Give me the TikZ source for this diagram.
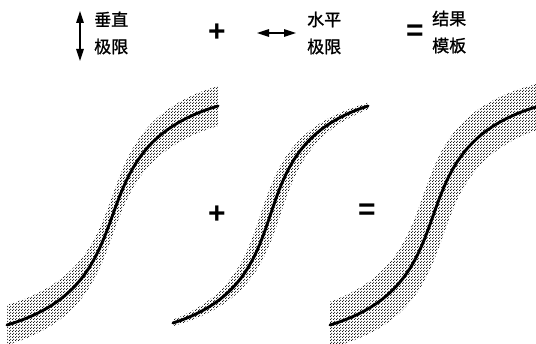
\documentclass[tikz,border=0pt]{standalone}
\usepackage{fontspec}
\setmainfont{Liberation Sans}
\newfontfamily\cjk[FakeBold=1.2]{Noto Sans CJK SC}
\usetikzlibrary{arrows.meta,positioning,patterns}

\pgfdeclarepatternformonly{halftone}{\pgfpointorigin}{\pgfqpoint{3pt}{3pt}}{\pgfqpoint{3pt}{3pt}}{%
  \pgfpathcircle{\pgfqpoint{0.75pt}{0.75pt}}{0.7pt}%
  \pgfpathcircle{\pgfqpoint{2.25pt}{2.25pt}}{0.7pt}%
  \pgfusepath{fill}}

% S-curve through (\crvx,\crvy) -- (\crvx+\crvw,\crvy-\crvh), shifted by #1,#2
\newcommand{\sfwd}[2]{({\crvx+(#1)-0.105*\crvw},{\crvy+(#2)+0.03*\crvh}) -- ({\crvx+(#1)},{\crvy+(#2)})
  .. controls ({\crvx+(#1)+0.7*\crvw},{\crvy+(#2)-0.2*\crvh}) and ({\crvx+(#1)+0.3*\crvw},{\crvy+(#2)-0.8*\crvh})
  .. ({\crvx+(#1)+\crvw},{\crvy+(#2)-\crvh}) -- ({\crvx+(#1)+1.105*\crvw},{\crvy+(#2)-1.03*\crvh})}
\newcommand{\srev}[2]{({\crvx+(#1)+1.105*\crvw},{\crvy+(#2)-1.03*\crvh}) -- ({\crvx+(#1)+\crvw},{\crvy+(#2)-\crvh})
  .. controls ({\crvx+(#1)+0.3*\crvw},{\crvy+(#2)-0.8*\crvh}) and ({\crvx+(#1)+0.7*\crvw},{\crvy+(#2)-0.2*\crvh})
  .. ({\crvx+(#1)},{\crvy+(#2)}) -- ({\crvx+(#1)-0.105*\crvw},{\crvy+(#2)+0.03*\crvh})}
% band: x0 y0 W H h v
\newcommand{\sband}[7]{%
  \def\crvx{#1}\def\crvy{#2}\def\crvw{#3}\def\crvh{#4}%
  \begin{scope}
    \clip (#1,0) rectangle ({#1+#3},344);
    \fill[pattern=halftone] \sfwd{-(#5)}{-(#6)} -- \srev{#5}{#6} -- cycle;
  \end{scope}
  \draw[curve] (#1,#2) .. controls ({#1+0.7*#3},{#2-0.2*#4}) and ({#1+0.3*#3},{#2-0.8*#4}) .. ({#1+#3},{#2-#4})
    coordinate (#7);
}

\begin{document}
\begin{tikzpicture}[
  x=1pt, y=-1pt,
  lbl/.style={font=\cjk\fontsize{17}{27}\selectfont, align=left, inner sep=0pt, anchor=west},
  op/.style={font=\bfseries\fontsize{30}{30}\selectfont, inner sep=0pt},
  dbl/.style={{Triangle[length=12pt,width=7.5pt]}-{Triangle[length=12pt,width=7.5pt]}, line width=1.3pt},
  curve/.style={line width=2.9pt, line cap=round},
]
\useasboundingbox (0,0) rectangle (536,344);
\coordinate (vtop) at (80,11);
\coordinate (vbot) at (80,61);
\draw[dbl] (vtop) -- (vbot);
\node[lbl] (vlim) at (94,33) {垂直\\极限};
\node[op] (plus1) at (217,33) {+};
\coordinate (hleft) at (257,33);
\coordinate (hright) at (296,33);
\draw[dbl] (hleft) -- (hright);
\node[lbl] (hlim) at (307,33) {水平\\极限};
\node[op] (eq1) at (415,33) {=};
\node[lbl] (res) at (432,32) {结果\\模板};
\sband{7}{325}{211}{219}{0}{20}{end1}
\sband{173}{323}{195}{217}{10}{0}{end2}
\sband{330}{325}{206}{218}{10}{20}{end3}
\node[op] (plus2) at (217,215) {+};
\node[op] (eq2) at (367,212) {=};
\end{tikzpicture}
\end{document}
